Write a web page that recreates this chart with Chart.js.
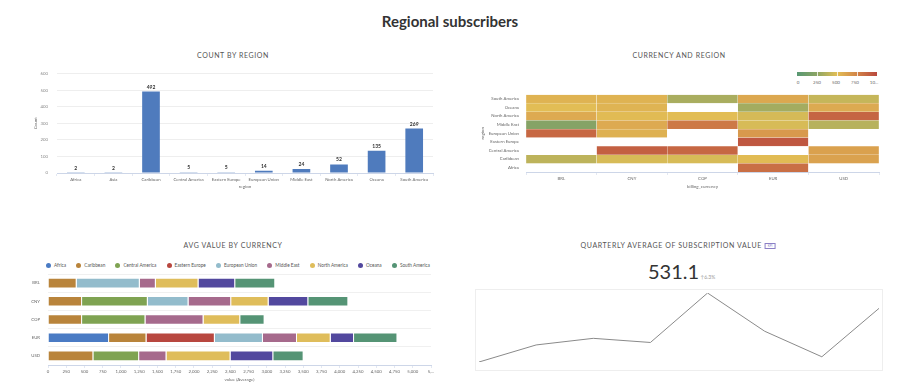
<!DOCTYPE html>
<html>
<head>
<meta charset="utf-8">
<script src="https://cdn.jsdelivr.net/npm/chart.js@4.4.1/dist/chart.umd.min.js"></script>
<style>
  body { margin:0; width:900px; height:382px; background:#fff; font-family:Lato, sans-serif; position:relative; overflow:hidden; }
  .box { position:absolute; }
  .main-title { position:absolute; left:0; width:900px; top:12px; text-align:center; font-size:15px; font-weight:bold; color:#333; line-height:18px; }
  .ptitle { position:absolute; transform:translateX(-50%); font-size:7px; letter-spacing:0.6px; color:#555; white-space:nowrap; line-height:8px; }
  .kpi-badge { display:inline-block; border:1px solid #8b80c6; color:#8b80c6; font-size:3px; line-height:4px; padding:0 2px; margin-left:3px; vertical-align:1px; letter-spacing:0; }
  .scale-bar { position:absolute; left:797px; top:72px; width:80px; height:4px; }
  .scale-lbl { position:absolute; top:80px; font-size:4.5px; color:#666; transform:translateX(-50%); line-height:6px; }
  .legend { position:absolute; left:46px; width:384px; top:262px; height:6px; display:flex; justify-content:space-between; align-items:center; }
  .legend span { display:flex; align-items:center; font-size:4.7px; color:#555; line-height:6px; white-space:nowrap; }
  .legend i { display:inline-block; width:5px; height:5px; border-radius:50%; margin-right:3px; }
  .kpi-num { position:absolute; left:648px; top:259px; color:#333; line-height:24px; white-space:nowrap; }
  .kpi-num .big { font-size:20px; }
  .kpi-num .chg { font-size:5px; color:#999; }
  .kpi-frame { position:absolute; left:475px; top:289px; width:408px; height:82px; border:1px solid #eee; box-sizing:border-box; }
</style>
</head>
<body>
<div class="main-title">Regional subscribers</div>

<div class="ptitle" style="left:233px; top:51px;">COUNT BY REGION</div>
<div class="box" style="left:33px; top:62px; width:412px; height:127px;"><canvas id="countChart"></canvas></div>

<div class="ptitle" style="left:679px; top:51px;">CURRENCY AND REGION</div>
<div class="scale-bar" id="scaleBar"></div>
<div id="scaleLabels"></div>
<div class="box" style="left:480px; top:85px; width:410px; height:104px;"><canvas id="heatChart"></canvas></div>

<div class="ptitle" style="left:233px; top:241px;">AVG VALUE BY CURRENCY</div>
<div class="legend" id="avgLegend"></div>
<div class="box" style="left:0; top:257px; width:445px; height:125px;"><canvas id="avgChart"></canvas></div>

<div class="ptitle" style="left:678px; top:241px;">QUARTERLY AVERAGE OF SUBSCRIPTION VALUE<span class="kpi-badge">KPI</span></div>
<div class="kpi-num"><span class="big">531.1</span><span class="chg"> &#8593;6.3%</span></div>
<div class="kpi-frame"><canvas id="kpiChart"></canvas></div>

<script>
// count by region
const regions = ['Africa', 'Asia', 'Caribbean', 'Central America', 'Eastern Europe', 'European Union', 'Middle East', 'North America', 'Oceana', 'South America'];
const regionCounts = [2, 2, 492, 5, 5, 14, 24, 52, 135, 269];

// avg value per currency, one list per region (BRL, CNY, COP, EUR, USD)
const currencies = ['BRL', 'CNY', 'COP', 'EUR', 'USD'];
const avgRegions = ['Africa', 'Caribbean', 'Central America', 'Eastern Europe', 'European Union', 'Middle East', 'North America', 'Oceana', 'South America'];
const africa = [null, null, null, 837, null];
const caribbean = [393, 467, 467, 513, 622];
const centralAmerica = [null, 901, 869, null, 627];
const easternEurope = [null, null, null, 937, null];
const europeanUnion = [865, 558, null, 659, null];
const middleEast = [220, 585, 796, 467, 375];
const northAmerica = [585, 513, 503, 462, 878];
const oceana = [503, 544, null, 320, 586];
const southAmerica = [549, 549, 334, 595, 416];
const avgValues = [africa, caribbean, centralAmerica, easternEurope, europeanUnion, middleEast, northAmerica, oceana, southAmerica];
const regionColors = ['#4a7bc4', '#b9843b', '#7fa352', '#b8473f', '#93bccc', '#a66a8c', '#dfbd5b', '#52489e', '#559475'];

// heat scale
const heatStops = [0, 250, 500, 750, 1000];
const heatStopLabels = ['0', '250', '500', '750', '10...'];
const heatStopColors = [[88, 152, 115], [140, 165, 100], [226, 190, 85], [210, 132, 72], [185, 72, 62]];

// quarterly kpi
const quarters = ['Q1 2016', 'Q2 2016', 'Q3 2016', 'Q4 2016', 'Q1 2017', 'Q2 2017', 'Q3 2017', 'Q4 2017'];
const quarterAvg = [496.2, 507.3, 511.6, 508.9, 541.1, 516.2, 499.6, 531.1];

Chart.defaults.font.family = 'Lato, sans-serif';
Chart.defaults.animation = false;
Chart.defaults.plugins.legend.display = false;
Chart.defaults.plugins.tooltip.enabled = false;
Chart.defaults.maintainAspectRatio = false;

function heatColor(v) {
    let i = 0;
    while (i < heatStops.length - 2 && v > heatStops[i + 1]) i++;
    let t = Math.min(1, Math.max(0, (v - heatStops[i]) / (heatStops[i + 1] - heatStops[i])));
    let a = heatStopColors[i], b = heatStopColors[i + 1];
    return 'rgb(' + a.map((c, k) => Math.round(c + (b[k] - c) * t)).join(',') + ')';
}

function fmt(v) {
    return v.toLocaleString('en-US');
}

//Values above bars
const barLabels = {
    id: 'barLabels',
    afterDatasetsDraw(chart) {
        let ctx = chart.ctx;
        let meta = chart.getDatasetMeta(0);
        ctx.save();
        ctx.font = 'bold 5px Lato';
        ctx.fillStyle = '#333';
        ctx.textAlign = 'center';
        ctx.textBaseline = 'bottom';
        meta.data.forEach(function (bar, i) {
            ctx.fillText(chart.data.datasets[0].data[i], bar.x, bar.y - 2);
        });
        ctx.restore();
    }
};

const tickFont = { size: 4.3 };
const titleFont = { size: 4.5 };
const tickColor = '#666';
const axisLine = '#cdd6e8';

new Chart(document.getElementById('countChart'), {
    type: 'bar',
    data: {
        labels: regions,
        datasets: [{ data: regionCounts, backgroundColor: '#4f7bbd', barPercentage: 0.47, categoryPercentage: 1 }]
    },
    options: {
        layout: { padding: { top: 7, right: 12 } },
        scales: {
            x: {
                grid: { offset: true, drawOnChartArea: false, tickLength: 3, color: '#e3e8f2' },
                border: { color: axisLine },
                ticks: { font: tickFont, color: tickColor, maxRotation: 0, autoSkip: false, padding: 1 },
                title: { display: true, text: 'region', font: titleFont, color: '#666', padding: 0 },
                afterFit(s) { s.height = 16; }
            },
            y: {
                min: 0, max: 600,
                ticks: { stepSize: 100, font: tickFont, color: '#888', padding: 9 },
                grid: { color: '#eeeeee', drawTicks: false },
                border: { display: false },
                title: { display: true, text: 'Count', font: titleFont, color: '#666', padding: 0 },
                afterFit(s) { s.width = 24; }
            }
        }
    },
    plugins: [barLabels]
});

//Heat scale legend
let grad = heatStops.map((s, i) => 'rgb(' + heatStopColors[i].join(',') + ') ' + (s / 10) + '%').join(', ');
let bar = document.getElementById('scaleBar');
bar.style.background = 'linear-gradient(to right, ' + grad + ')';
heatStops.forEach(function (s, i) {
    if (i > 0 && i < heatStops.length - 1) {
        let sep = document.createElement('div');
        sep.style.cssText = 'position:absolute;top:0;height:4px;width:1px;background:rgba(255,255,255,0.8);left:' + (s / 1000 * 80) + 'px';
        bar.appendChild(sep);
    }
    let lbl = document.createElement('div');
    lbl.className = 'scale-lbl';
    lbl.textContent = heatStopLabels[i];
    lbl.style.left = (798 + s / 1000 * 76) + 'px';
    document.getElementById('scaleLabels').appendChild(lbl);
});

new Chart(document.getElementById('heatChart'), {
    type: 'bar',
    data: {
        labels: currencies,
        datasets: avgRegions.map(function (name, r) {
            return {
                label: name,
                data: currencies.map(function () { return 1; }),
                backgroundColor: avgValues[r].map(function (v) { return v == null ? 'rgba(0,0,0,0)' : heatColor(v); }),
                borderColor: 'rgba(255,255,255,0.25)',
                borderWidth: 0.5,
                barPercentage: 1,
                categoryPercentage: 1
            };
        })
    },
    options: {
        layout: { padding: { top: 7, right: 11 } },
        scales: {
            x: {
                stacked: true,
                grid: { offset: true, drawOnChartArea: false, tickLength: 3, color: '#e3e8f2' },
                border: { color: axisLine },
                ticks: { font: tickFont, color: tickColor, maxRotation: 0, padding: 1 },
                title: { display: true, text: 'billing_currency', font: titleFont, color: '#666', padding: 0 },
                afterFit(s) { s.height = 17; }
            },
            y: { stacked: true, min: 0, max: avgRegions.length, display: false },
            yReg: {
                type: 'category',
                position: 'left',
                labels: avgRegions.slice().reverse(),
                offset: true,
                grid: { display: false, drawTicks: false },
                border: { display: false },
                ticks: { font: tickFont, color: tickColor, padding: 7, autoSkip: false },
                title: { display: true, text: 'region', font: titleFont, color: '#666', padding: 0 },
                afterFit(s) { s.width = 46; }
            }
        }
    }
});

//Legend for avg chart
avgRegions.forEach(function (name, r) {
    let item = document.createElement('span');
    item.innerHTML = '<i style="background:' + regionColors[r] + '"></i>' + name;
    document.getElementById('avgLegend').appendChild(item);
});

new Chart(document.getElementById('avgChart'), {
    type: 'bar',
    data: {
        labels: currencies,
        datasets: avgRegions.map(function (name, r) {
            return {
                label: name,
                data: avgValues[r],
                backgroundColor: regionColors[r],
                borderColor: 'rgba(255,255,255,0.6)',
                borderWidth: 1,
                barPercentage: 0.58,
                categoryPercentage: 1
            };
        })
    },
    options: {
        indexAxis: 'y',
        layout: { padding: { top: 17, right: 14 } },
        scales: {
            x: {
                stacked: true, min: 0, max: 5250,
                grid: { drawOnChartArea: false, tickLength: 3, color: '#e3e8f2' },
                border: { color: axisLine },
                ticks: {
                    stepSize: 250, autoSkip: false, maxRotation: 0, font: tickFont, color: tickColor, padding: 1,
                    callback: function (v) { return v === 5250 ? '5,...' : fmt(v); }
                },
                title: { display: true, text: 'value (Average)', font: titleFont, color: '#666', padding: 0 },
                afterFit(s) { s.height = 17; }
            },
            y: {
                stacked: true,
                grid: { offset: true, color: '#f0f0f0', drawTicks: false },
                border: { display: false },
                ticks: { font: tickFont, color: tickColor, padding: 8 },
                afterFit(s) { s.width = 48; }
            }
        }
    }
});

new Chart(document.getElementById('kpiChart'), {
    type: 'line',
    data: {
        labels: quarters,
        datasets: [{ data: quarterAvg, borderColor: '#8a8a8a', borderWidth: 1, pointRadius: 0, tension: 0 }]
    },
    options: {
        layout: { padding: { left: 3, right: 3, top: 3, bottom: 1 } },
        scales: {
            x: {
                grid: { display: false },
                border: { display: false },
                ticks: {
                    font: { size: 4 }, color: '#bbb', align: 'inner', autoSkip: false, maxRotation: 0, padding: 0,
                    callback: function (v, i) { return (i === 0 || i === quarters.length - 1) ? quarters[i] : ''; }
                },
                afterFit(s) { s.height = 7; }
            },
            y: { display: false, min: Math.min(...quarterAvg), max: Math.max(...quarterAvg) }
        }
    }
});
</script>
</body>
</html>
